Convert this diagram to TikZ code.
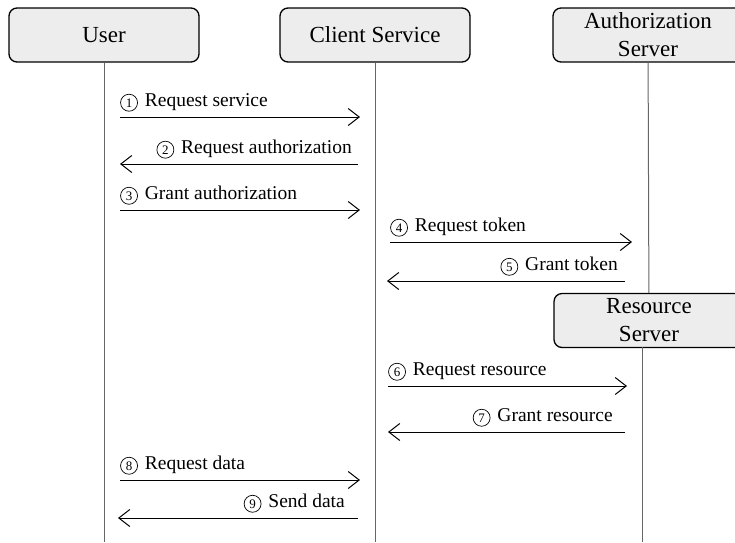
\documentclass[tikz,border=0pt]{standalone}
\usepackage{fontspec}
\setmainfont{Liberation Serif}
\usetikzlibrary{arrows.meta}
\newcommand{\dig}[1]{\tikz[baseline={([yshift=1pt]d.base)}]\node[circle, draw, line width=0.7pt,
  minimum size=17pt, inner sep=0pt, font=\fontsize{13}{13}\selectfont] (d) {#1};\hspace{7pt}}

\begin{document}
\begin{tikzpicture}[x=1pt, y=-1pt, line width=1pt,
      every node/.append style={font=\fontsize{19.5}{22}\selectfont},
      actor/.style={draw=black, line width=1.3pt, fill=black!7, rounded corners=8pt,
        minimum width=190pt, minimum height=54pt, inner sep=0pt, align=center,
        font=\fontsize{23}{28}\selectfont},
      lifeline/.style={draw=black!60, line width=1pt},
      msg/.style={-{Straight Barb[length=11pt, width=17pt]}, black, line width=1pt},
      lbl/.style={inner sep=0pt, yshift=11pt}]
    \useasboundingbox (0,0) rectangle (735,542);
    % participants
    \node[actor] (user) at (104,35) {User};
    \node[actor] (client) at (375,35) {Client Service};
    \node[actor] (auth) at (648,35) {Authorization\\Server};
    \node[actor] (res) at (649,320.5) {Resource\\Server};
    % lifelines
    \coordinate (user end) at (104,542);
    \coordinate (client end) at (375,542);
    \coordinate (res top) at (642,347);
    \coordinate (res end) at (642,542);
    \draw[lifeline] (user) -- (user end);
    \draw[lifeline] (client) -- (client end);
    \draw[lifeline] (auth) -- (res);
    \draw[lifeline] (res top) -- (res end);
    % messages to the right
    \foreach \n/\xa/\xb/\yy/\txt in {1/120/360/117/{Request service},
        3/120/360/210/{Grant authorization},
        4/390/632/242/{Request token},
        6/388/627/386/{Request resource},
        8/120/360/480/{Request data}}
    {
      \coordinate (m\n s) at (\xa,\yy);
      \coordinate (m\n e) at (\xb,\yy);
      \draw[msg] (m\n s) -- (m\n e) node[lbl, pos=0, anchor=base west] {\dig{\n}\txt};
    }
    % messages to the left
    \foreach \n/\xa/\xb/\yy/\lx/\txt in {2/358/120/164/352/{Request authorization},
        5/625/387/281/618/{Grant token},
        7/625/388/432/613/{Grant resource},
        9/358/118/518/345/{Send data}}
    {
      \coordinate (m\n s) at (\xa,\yy);
      \coordinate (m\n e) at (\xb,\yy);
      \draw[msg] (m\n s) -- (m\n e);
      \node[lbl, anchor=base east] (t\n) at (\lx,\yy) {\dig{\n}\txt};
    }
\end{tikzpicture}
\end{document}
